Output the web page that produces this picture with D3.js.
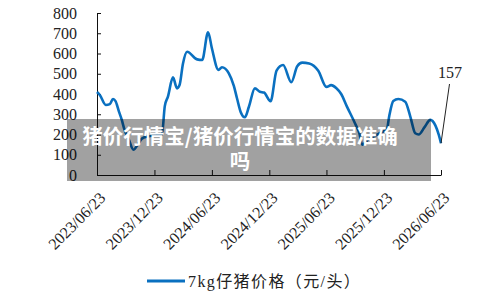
<!DOCTYPE html>
<html>
<head>
<meta charset="utf-8">
<script src="https://cdn.jsdelivr.net/npm/d3@7"></script>
<style>
  body { margin: 0; background: #fff; }
  svg { display: block; }
  .axis text { font-family: "Liberation Serif", "Times New Roman", serif; font-size: 16px; fill: #222; }
  .axis path, .axis line { stroke: #111; stroke-width: 1; }
</style>
</head>
<body>
<svg width="500" height="300"></svg>
<script>
// 7kg piglet price, yuan per head
var dates = [
  "2023-06-23", "2023-07-02", "2023-07-21", "2023-08-03", "2023-08-13", "2023-08-21",
  "2023-09-01", "2023-09-10", "2023-09-17", "2023-10-03", "2023-10-17", "2023-10-31",
  "2023-11-13", "2023-12-02", "2023-12-24", "2024-01-09", "2024-01-16", "2024-01-25",
  "2024-02-04", "2024-02-20", "2024-03-04", "2024-03-12", "2024-03-23", "2024-04-05",
  "2024-05-07", "2024-05-23", "2024-06-11", "2024-06-23", "2024-07-14", "2024-07-25",
  "2024-08-16", "2024-09-01", "2024-09-11", "2024-09-23", "2024-10-06", "2024-10-19",
  "2024-11-07", "2024-11-23", "2024-12-06", "2024-12-27", "2025-01-15", "2025-02-05",
  "2025-03-03", "2025-03-22", "2025-04-07", "2025-04-29", "2025-05-28", "2025-06-23",
  "2025-07-08", "2025-07-24", "2025-08-09", "2025-08-27", "2025-09-23", "2025-10-06",
  "2025-10-15", "2025-11-03", "2025-11-26", "2025-12-21", "2026-01-01", "2026-01-09",
  "2026-01-22", "2026-02-07", "2026-03-01", "2026-03-17", "2026-04-02", "2026-04-13",
  "2026-05-01", "2026-05-20", "2026-06-05", "2026-06-16", "2026-06-23"
];
var prices = [
  410, 395, 346, 350, 375, 365,
  313, 272, 232, 173, 125, 150,
  180, 190, 195, 198, 200, 340,
  387, 482, 428, 444, 551, 609,
  571, 568, 705, 626, 519, 532,
  502, 440, 379, 310, 285, 337,
  428, 411, 407, 364, 515, 543,
  458, 537, 555, 551, 515, 435,
  444, 430, 400, 339, 252, 205,
  150, 175, 195, 215, 222, 290,
  365, 375, 362, 290, 206, 200,
  235, 272, 245, 198, 157
];
var tickDates = ["2023-06-23", "2023-12-23", "2024-06-23", "2024-12-23", "2025-06-23", "2025-12-23", "2026-06-23"];
var yTicks = [0, 100, 200, 300, 400, 500, 600, 700, 800];
var seriesName = "7kg仔猪价格（元/头）";
var lastLabel = "157";
var watermark = ["猪价行情宝/猪价行情宝的数据准确", "吗"];

var parse = d3.timeParse("%Y-%m-%d");
var data = dates.map(function(d, i) { return { date: parse(d), value: prices[i] }; });

var svg = d3.select("svg");

var x = d3.scaleTime()
    .domain([parse(tickDates[0]), parse(tickDates[tickDates.length - 1])])
    .range([97, 441]);

var y = d3.scaleLinear()
    .domain([0, 800])
    .range([175, 13]);

// x axis, ticks pointing up into the plot
var xAxis = svg.append("g")
    .attr("class", "axis")
    .attr("transform", "translate(0,175)")
    .call(d3.axisBottom(x)
        .tickValues(tickDates.map(parse))
        .tickSizeInner(-5)
        .tickSizeOuter(0)
        .tickFormat(d3.timeFormat("%Y/%m/%d")));

xAxis.selectAll("text")
    .attr("x", 0)
    .attr("y", 0)
    .attr("dy", "0.35em")
    .attr("text-anchor", "end")
    .attr("transform", "translate(5,20) rotate(-45)");

// y axis, ticks pointing right
svg.append("g")
    .attr("class", "axis")
    .attr("transform", "translate(97,0)")
    .call(d3.axisLeft(y)
        .tickValues(yTicks)
        .tickSizeInner(-4)
        .tickSizeOuter(0)
        .tickPadding(20));

var line = d3.line()
    .x(function(d) { return x(d.date); })
    .y(function(d) { return y(d.value); })
    .curve(d3.curveMonotoneX);

svg.append("path")
    .datum(data)
    .attr("fill", "none")
    .attr("stroke", "#0a70c0")
    .attr("stroke-width", 2.6)
    .attr("stroke-linejoin", "round")
    .attr("d", line);

// end value callout
var last = data[data.length - 1];
svg.append("line")
    .attr("x1", 449.5).attr("y1", 84)
    .attr("x2", x(last.date)).attr("y2", y(last.value))
    .attr("stroke", "#222")
    .attr("stroke-width", 1);

svg.append("text")
    .attr("x", 450)
    .attr("y", 78)
    .attr("text-anchor", "middle")
    .style("font-family", "'Liberation Serif', serif")
    .style("font-size", "16px")
    .style("fill", "#222")
    .text(lastLabel);

// legend
svg.append("line")
    .attr("x1", 147).attr("x2", 185)
    .attr("y1", 281).attr("y2", 281)
    .attr("stroke", "#0a70c0")
    .attr("stroke-width", 3);

svg.append("text")
    .attr("x", 188)
    .attr("y", 281)
    .attr("dy", "0.35em")
    .style("font-family", "'Liberation Serif', 'Noto Sans CJK SC', serif")
    .style("font-size", "16px")
    .style("letter-spacing", "1.4px")
    .style("fill", "#222")
    .text(seriesName);

// watermark overlay
svg.append("rect")
    .attr("x", 67).attr("y", 119)
    .attr("width", 364).attr("height", 62)
    .attr("fill", "#000")
    .attr("fill-opacity", 0.37);

svg.append("text")
    .attr("text-anchor", "middle")
    .style("font-family", "'Noto Sans CJK SC', sans-serif")
    .style("font-weight", "bold")
    .style("font-size", "20.5px")
    .style("fill", "#fff")
    .selectAll("tspan")
    .data(watermark)
    .enter().append("tspan")
    .attr("x", 240)
    .attr("y", function(d, i) { return 137 + i * 25; })
    .attr("dy", "0.35em")
    .text(function(d) { return d; });
</script>
</body>
</html>
